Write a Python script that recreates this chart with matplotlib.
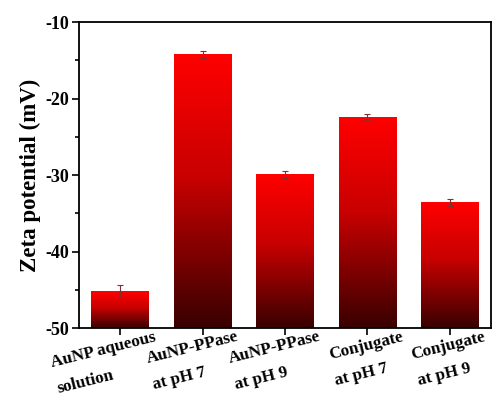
import numpy as np
import matplotlib.pyplot as plt
from matplotlib.colors import LinearSegmentedColormap
from matplotlib.ticker import MultipleLocator
from matplotlib.transforms import ScaledTranslation

labels = ['AuNP aqueous\nsolution', 'AuNP-PPase\nat pH 7', 'AuNP-PPase\nat pH 9',
          'Conjugate\nat pH 7', 'Conjugate\nat pH 9']
zeta = [-45.2, -14.2, -29.9, -22.4, -33.6]
err = [0.8, 0.45, 0.45, 0.4, 0.45]

plt.rcParams['font.family'] = 'Liberation Serif'
plt.rcParams['font.weight'] = 'bold'
plt.rcParams['axes.unicode_minus'] = False

fig = plt.figure(figsize=(4.93, 4.05), dpi=100)
ax = fig.add_axes([0.160, 0.19, 0.836, 0.755])

cmap = LinearSegmentedColormap.from_list('redfade', [(0.0, '#380000'), (0.55, '#c80000'), (1.0, '#ff0000')], N=1024)
base = -50
x = np.arange(len(zeta))
w = 0.7
bars = ax.bar(x, np.array(zeta) - base, bottom=base, width=w, color='none', edgecolor='none')
grad = np.linspace(0, 1, 1024).reshape(-1, 1)
for b, v in zip(bars, zeta):
    ax.imshow(grad, cmap=cmap, origin='lower', aspect='auto', interpolation='bilinear',
              extent=[b.get_x(), b.get_x() + w, base, v], zorder=2)
ax.errorbar(x, zeta, yerr=err, fmt='none', ecolor='#803030', elinewidth=0.8, capsize=2.5, capthick=0.8, zorder=3)

ax.set_xlim(-0.5, 4.5)
ax.set_ylim(-50, -10)
ax.yaxis.set_major_locator(MultipleLocator(10))
ax.yaxis.set_minor_locator(MultipleLocator(5))
ax.set_xticks(x)
ax.set_xticklabels([''] * len(x))
# rotated two-line labels, right end of first line just right of the tick
trans = ax.get_xaxis_transform() + ScaledTranslation(0.335, -0.01, fig.dpi_scale_trans)
for xi, lab in zip(x, labels):
    ax.text(xi, 0, lab, transform=trans, rotation=14, fontsize=12.3, fontweight='bold',
            linespacing=1.9, ha='right', va='top', rotation_mode='anchor', multialignment='left')
ax.tick_params(axis='y', labelsize=13, direction='out', length=5, width=1.2, pad=2)
ax.tick_params(axis='y', which='minor', direction='out', length=3, width=1.2)
ax.tick_params(axis='x', direction='out', length=5, width=1.2)
for lab in ax.get_yticklabels():
    lab.set_fontweight('bold')
ax.set_ylabel('Zeta potential (mV)', fontsize=16.5, fontweight='bold', labelpad=3)
for s in ax.spines.values():
    s.set_linewidth(1.3)

fig.savefig('out.png', dpi=100)
